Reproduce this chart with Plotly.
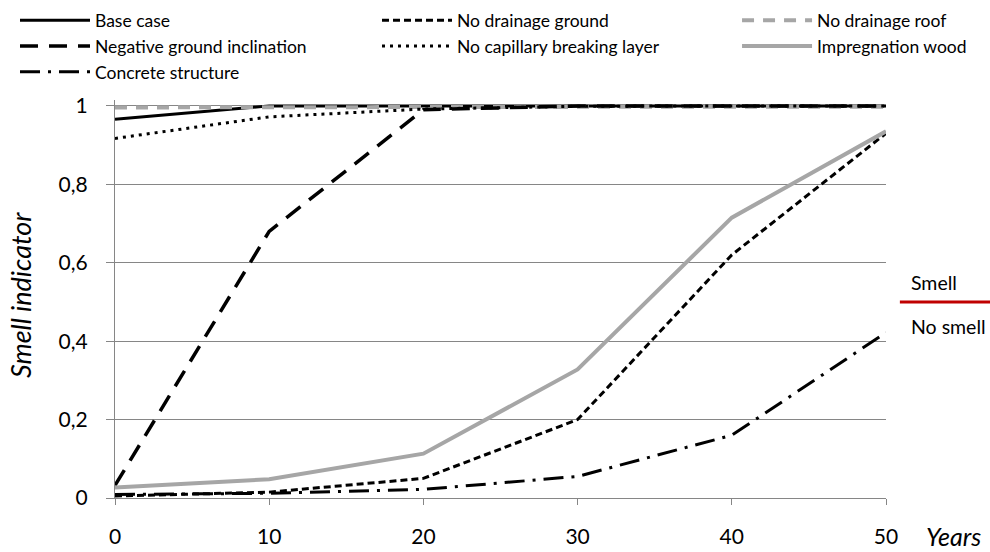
import plotly.graph_objects as go

years = [0, 10, 20, 30, 40, 50]

base_case = [0.966, 1.0, 1.0, 1.0, 1.0, 1.0]
no_drainage_ground = [0.005, 0.015, 0.05, 0.2, 0.62, 0.93]
no_drainage_roof = [0.996, 0.997, 0.998, 0.998, 0.998, 0.998]
negative_ground_inclination = [0.032, 0.68, 0.99, 1.0, 1.0, 1.0]
no_capillary_breaking_layer = [0.917, 0.972, 0.992, 0.999, 1.0, 1.0]
impregnation_wood = [0.027, 0.048, 0.113, 0.328, 0.715, 0.935]
concrete_structure = [0.009, 0.012, 0.022, 0.055, 0.16, 0.422]

y_ticks = [0, 0.2, 0.4, 0.6, 0.8, 1.0]
x_ticks = [0, 10, 20, 30, 40, 50]
smell_threshold = 0.5

FONT = "Lato"
GRID = "#868686"
GRAY = "#A6A6A6"

# name, values, colour, width, dash, legend column
series = [
    ("Base case", base_case, "black", 3, "solid", "legend"),
    ("No drainage ground", no_drainage_ground, "black", 3, "7px,4px", "legend2"),
    ("No drainage roof", no_drainage_roof, GRAY, 4, "12px,9px", "legend3"),
    ("Negative ground inclination", negative_ground_inclination, "black", 3.5, "18px,11px", "legend"),
    ("No capillary breaking layer", no_capillary_breaking_layer, "black", 3, "3px,5px", "legend2"),
    ("Impregnation wood", impregnation_wood, GRAY, 4, "solid", "legend3"),
    ("Concrete structure", concrete_structure, "black", 3, "20px,8px,3px,8px", "legend"),
]

fig = go.Figure()
for name, vals, color, width, dash, leg in series:
    fig.add_trace(go.Scatter(
        x=years, y=vals, name=name, mode="lines", legend=leg,
        line=dict(color=color, width=width, dash=dash),
    ))

def legend_at(x):
    return dict(
        orientation="v", xref="paper", yref="paper",
        x=x, y=1.245, xanchor="left", yanchor="top",
        itemwidth=70, font=dict(family=FONT, size=17.5, color="black"),
        tracegroupgap=0, bgcolor="rgba(0,0,0,0)",
    )

fig.update_layout(
    width=990, height=552,
    margin=dict(l=115, r=104, t=100, b=54, autoexpand=False),
    plot_bgcolor="white", paper_bgcolor="white",
    font=dict(family=FONT, size=18, color="black"),
    separators=", ",
    showlegend=True,
    legend=legend_at(-0.1297),
    legend2=legend_at(0.3398),
    legend3=legend_at(0.8068),
    xaxis=dict(
        range=[0, 50], tickvals=x_ticks, showgrid=False,
        showline=True, linecolor=GRID, linewidth=1.3,
        ticks="outside", ticklen=6, tickcolor=GRID, tickwidth=1.3,
        tickfont=dict(family=FONT, size=21, color="black"),
        ticklabelstandoff=14, zeroline=False,
    ),
    yaxis=dict(
        range=[0, 1.015], tickvals=y_ticks, showgrid=True,
        gridcolor=GRID, gridwidth=1.3,
        showline=True, linecolor=GRID, linewidth=1.3,
        ticks="outside", ticklen=8, tickcolor=GRID, tickwidth=1.3,
        tickfont=dict(family=FONT, size=21, color="black"),
        ticklabelstandoff=14, zeroline=False,
    ),
    shapes=[dict(
        type="line", xref="paper", yref="y",
        x0=1.018, x1=1.14, y0=smell_threshold, y1=smell_threshold,
        line=dict(color="#C00000", width=3),
    )],
    annotations=[
        dict(text="Smell indicator", textangle=-90, xref="paper", yref="paper",
             x=0, y=0.51, xshift=-95, xanchor="center", yanchor="middle",
             showarrow=False, font=dict(family=FONT, size=27, style="italic")),
        dict(text="Years", xref="paper", yref="paper", x=1, y=0,
             xshift=38, yshift=-38, xanchor="left", yanchor="middle",
             showarrow=False, font=dict(family=FONT, size=25, style="italic")),
        dict(text="Smell", xref="paper", yref="y", x=1.034, y=smell_threshold,
             xshift=-3, yshift=19, xanchor="left", yanchor="middle",
             showarrow=False, font=dict(family=FONT, size=19.5)),
        dict(text="No smell", xref="paper", yref="y", x=1.034, y=smell_threshold,
             xshift=-3, yshift=-25, xanchor="left", yanchor="middle",
             showarrow=False, font=dict(family=FONT, size=19.5)),
    ],
)

fig.write_html("out.html", config={"displayModeBar": False},
               post_script="document.body.style.margin='0';")
